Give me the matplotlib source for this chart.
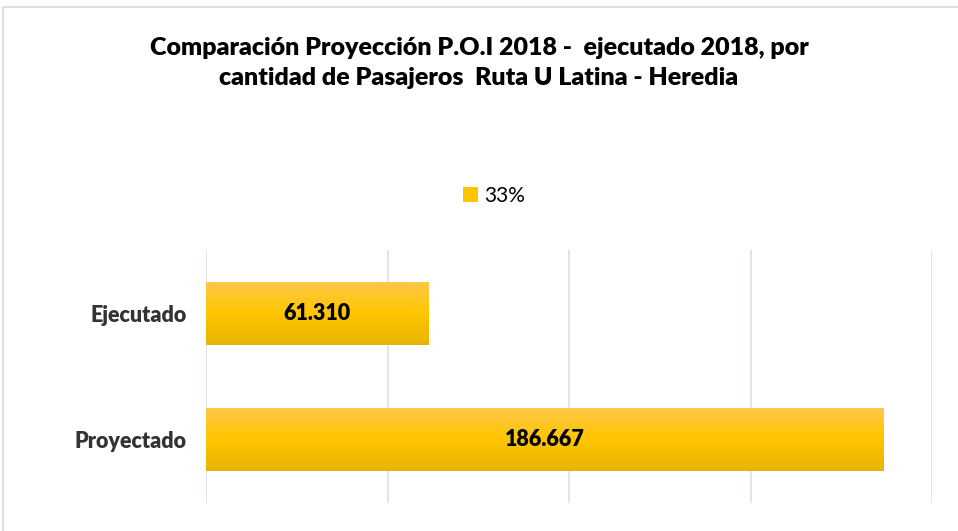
import numpy as np
import matplotlib
matplotlib.use("Agg")
import matplotlib.pyplot as plt
from matplotlib.colors import LinearSegmentedColormap
from matplotlib.patches import Rectangle, Patch

plt.rcParams["font.family"] = ["Lato", "DejaVu Sans"]

categories = ["Proyectado", "Ejecutado"]
values = [186667, 61310]
value_labels = ["186.667", "61.310"]
legend_label = "33%"
title = ("Comparación Proyección P.O.I 2018 -  ejecutado 2018, por\n"
         "cantidad de Pasajeros  Ruta U Latina - Heredia")

fig = plt.figure(figsize=(9.58, 5.31), dpi=100)
fig.patches.append(Rectangle((3 / 958, -0.1), 1.1, (531 - 7) / 531 + 0.1,
                             transform=fig.transFigure, fill=False,
                             edgecolor="#d9d9d9", linewidth=1.2))

ax = fig.add_axes([206 / 958, 1 - 503 / 531, (932 - 206) / 958, (503 - 250) / 531])

grad = LinearSegmentedColormap.from_list("bar", ["#e6b400", "#ffc600", "#ffc84c"])
gradient = np.linspace(0, 1, 256).reshape(-1, 1)

bar_h = 0.5
bars = ax.barh(range(len(categories)), values, height=bar_h, color="none", zorder=2)
for b, lab in zip(bars, value_labels):
    x0, y0 = b.get_x(), b.get_y()
    w, h = b.get_width(), b.get_height()
    im = ax.imshow(gradient, cmap=grad, aspect="auto", origin="upper",
                   extent=[x0, x0 + w, y0 + h, y0], zorder=2)
    im.set_clip_path(b)
    ax.text(x0 + w / 2, y0 + h / 2, lab, ha="center", va="center",
            fontsize=15.5, fontweight="heavy", color="black", zorder=3)

ax.set_xlim(0, 200000)
ax.set_ylim(-0.5, 1.5)
ax.set_xticks([0, 50000, 100000, 150000, 200000])
ax.xaxis.grid(True, color="#dde3ea", linewidth=1.3, zorder=0)
ax.set_axisbelow(True)
ax.tick_params(axis="x", length=0, labelbottom=False)
ax.set_yticks(range(len(categories)))
ax.set_yticklabels(categories, fontsize=15.5, fontweight="heavy", color="#333333")
ax.tick_params(axis="y", length=0, pad=14)
for s in ax.spines.values():
    s.set_visible(False)

fig.text(0.5, 1 - 63 / 531, title, ha="center", va="center", fontsize=18,
         fontweight="heavy", color="black", linespacing=1.45)

handle = Patch(facecolor="#ffc600", edgecolor="none")
fig.legend([handle], [legend_label], loc="center", bbox_to_anchor=(494 / 958, 1 - 196 / 531),
           frameon=False, fontsize=15, handlelength=0.7, handleheight=0.7,
           handletextpad=0.3)

fig.savefig("out.png", dpi=100)
